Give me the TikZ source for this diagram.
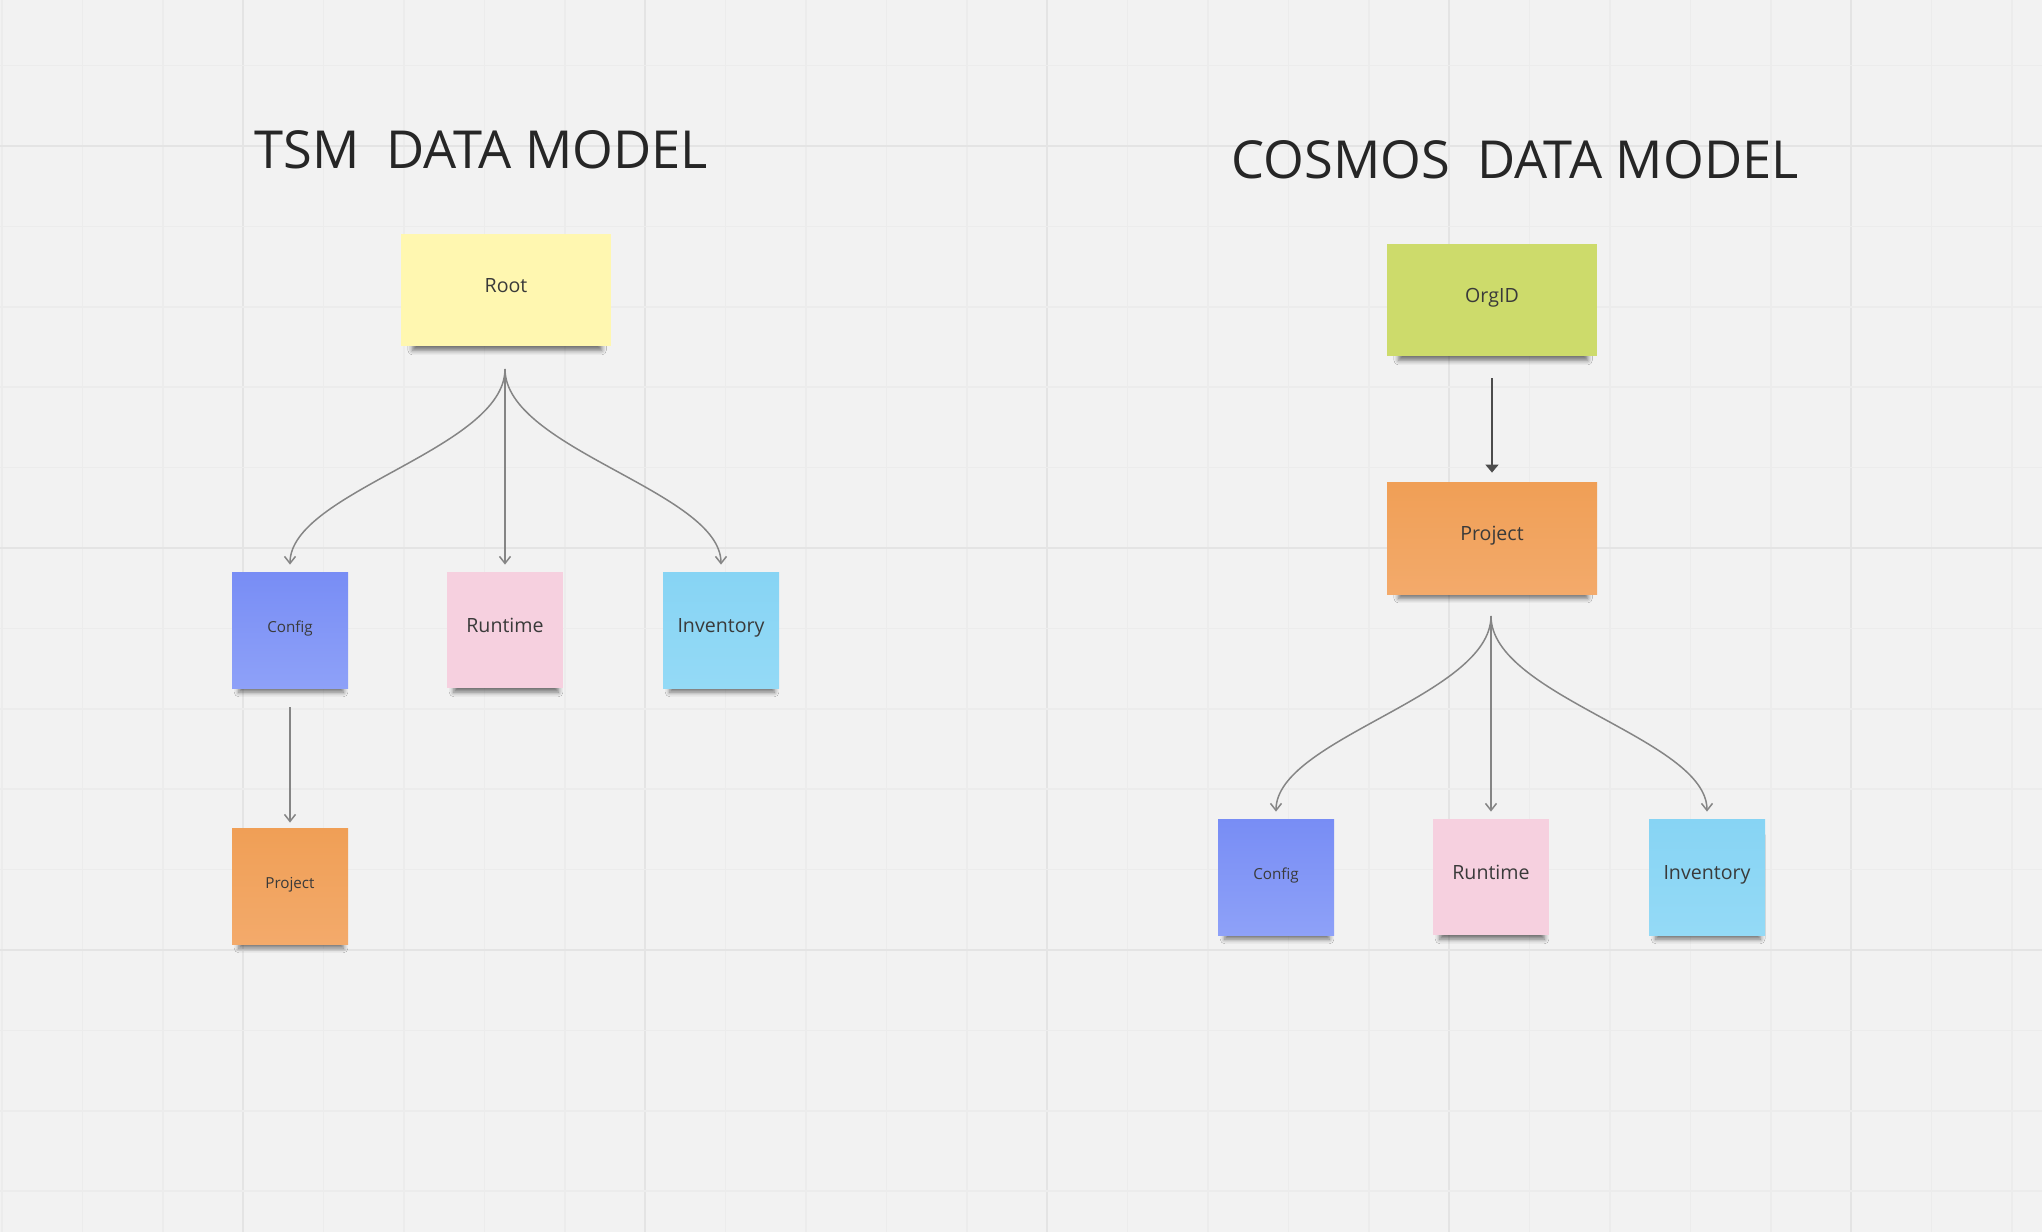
\documentclass[tikz,border=0pt]{standalone}
\usepackage{fontspec}
\setmainfont{Open Sans}
\usetikzlibrary{arrows.meta,shadows.blur}

\definecolor{board}{HTML}{F2F2F2}
\definecolor{gridminor}{HTML}{ECECEC}
\definecolor{gridmajor}{HTML}{E4E4E4}
\definecolor{notetext}{HTML}{3A3A3A}
\definecolor{fangray}{HTML}{858585}
\definecolor{yellownote}{HTML}{FFF7B0}
\definecolor{limenote}{HTML}{CDDB6B}
\definecolor{orangetop}{HTML}{F09F56}
\definecolor{orangebot}{HTML}{F3AA6B}
\definecolor{bluetop}{HTML}{788DF5}
\definecolor{bluebot}{HTML}{8EA1F8}
\definecolor{pinknote}{HTML}{F6D0DF}
\definecolor{cyantop}{HTML}{87D4F4}
\definecolor{cyanbot}{HTML}{94DAF6}

\begin{document}
\begin{tikzpicture}[x=0.5pt,y=-0.5pt,
    note/.style={inner sep=0pt,text=notetext,text height=0.72em,text depth=0.45em,
      font=\fontsize{9.8pt}{12pt}\selectfont,
      blur shadow={shadow xshift=0.6pt,shadow yshift=-5.5pt,shadow scale=0.9,
        shadow blur radius=2.6pt,shadow opacity=55}},
    widenote/.style={note,minimum width=105pt,minimum height=56pt},
    squarenote/.style={note,minimum width=58pt,minimum height=58pt},
    smalltext/.style={font=\fontsize{7.6pt}{9pt}\selectfont},
    heading/.style={anchor=west,inner sep=0pt,text=black!85,
      font=\fontsize{26.2pt}{30pt}\selectfont},
    fan/.style={draw=fangray,line width=0.75pt,
      -{Straight Barb[length=3.5pt,width=5.5pt]},shorten >=3.5pt},
    bigarrow/.style={draw=black!70,line width=0.8pt,
      -{Triangle[length=4pt,width=6.5pt]}}]

  % board background with its grid
  \fill [board] (0,0) rectangle (2042,1232);
  \useasboundingbox (0,0) rectangle (2042,1232);
  \foreach \i in {0,...,25} {
    \pgfmathsetmacro{\gx}{2+80.4*\i}
    \pgfmathtruncatemacro{\ismajor}{mod(\i,5)==3}
    \ifnum\ismajor=1
      \draw [gridmajor,line width=1pt] (\gx,0) -- (\gx,1232);
    \else
      \draw [gridminor,line width=0.8pt] (\gx,0) -- (\gx,1232);
    \fi
  }
  \foreach \j in {1,...,15} {
    \pgfmathsetmacro{\gy}{-14.8+80.4*\j}
    \pgfmathtruncatemacro{\ismajor}{mod(\j,5)==2}
    \ifnum\ismajor=1
      \draw [gridmajor,line width=1pt] (0,\gy) -- (2042,\gy);
    \else
      \draw [gridminor,line width=0.8pt] (0,\gy) -- (2042,\gy);
    \fi
  }

  % headings
  \node [heading] (tsmtitle) at (254,150) {TSM\ \ DATA MODEL};
  \node [heading] (cosmostitle) at (1231,160) {COSMOS\ \ DATA MODEL};

  % TSM notes
  \node [widenote,fill=yellownote] (troot) at (506,290) {Root};
  \node [squarenote,smalltext,top color=bluetop,bottom color=bluebot] (tconfig) at (290,630) {Config};
  \node [squarenote,fill=pinknote] (truntime) at (505,630) {Runtime};
  \node [squarenote,top color=cyantop,bottom color=cyanbot] (tinventory) at (721,630) {Inventory};
  \node [squarenote,smalltext,top color=orangetop,bottom color=orangebot] (tproject) at (290,886) {Project};

  % COSMOS notes
  \node [widenote,fill=limenote] (corgid) at (1492,300) {OrgID};
  \node [widenote,top color=orangetop,bottom color=orangebot] (cproject) at (1492,538) {Project};
  \node [squarenote,smalltext,top color=bluetop,bottom color=bluebot] (cconfig) at (1276,877) {Config};
  \node [squarenote,fill=pinknote] (cruntime) at (1491,877) {Runtime};
  \node [squarenote,top color=cyantop,bottom color=cyanbot] (cinventory) at (1707,877) {Inventory};

  % TSM connectors
  \coordinate (tfork) at (505,369);
  \foreach \kid in {tconfig,truntime,tinventory}
    \draw [fan] (tfork) .. controls +(0,80) and +(0,-80) .. (\kid.north);
  \draw [fan,shorten <=9.5pt,shorten >=2.5pt] (tconfig.south) -- (tproject.north);

  % COSMOS connectors
  \draw [bigarrow,shorten <=11pt,shorten >=4.5pt] (corgid.south) -- (cproject.north);
  \coordinate (cfork) at (1491,616);
  \foreach \kid in {cconfig,cruntime,cinventory}
    \draw [fan] (cfork) .. controls +(0,80) and +(0,-80) .. (\kid.north);

\end{tikzpicture}
\end{document}
